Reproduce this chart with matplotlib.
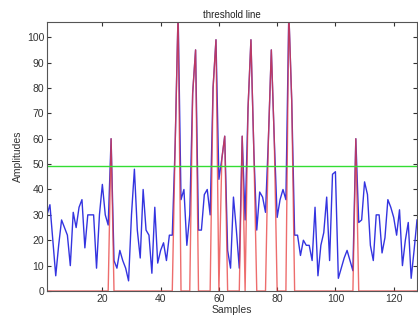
import numpy as np
import matplotlib
matplotlib.use('Agg')
import matplotlib.pyplot as plt

plt.rcParams['font.family'] = ['Liberation Sans', 'DejaVu Sans']

# signal amplitudes, samples 1..128
amplitudes = [30, 34, 20, 6, 18, 28, 25, 22, 10, 31,
              25, 33, 36, 17, 30, 30, 30, 9, 30, 42,
              30, 26, 60, 12, 9, 16, 12, 9, 4, 30,
              48, 24, 13, 40, 24, 22, 7, 33, 11, 16,
              19, 12, 22, 22, 58, 110, 36, 40, 18, 30,
              78, 95, 24, 24, 38, 40, 30, 80, 99, 44,
              52, 61, 16, 9, 37, 24, 9, 61, 28, 72,
              99, 55, 24, 39, 37, 31, 60, 95, 60, 29,
              36, 40, 36, 110, 75, 22, 22, 14, 20, 18,
              18, 12, 33, 6, 18, 23, 37, 12, 46, 47,
              5, 9, 13, 16, 12, 8, 60, 27, 28, 43,
              38, 18, 12, 30, 30, 15, 21, 36, 33, 29,
              22, 32, 10, 20, 27, 5, 16, 28]
threshold = 49.3

samples = np.arange(1, len(amplitudes) + 1)
sig = np.array(amplitudes, dtype=float)
above = np.where(sig > threshold, sig, 0)

fig = plt.figure(figsize=(4.18, 3.22), dpi=100)
ax = fig.add_axes([47/418, 1-291/322, 370/418, 269/322])

ax.plot(samples, sig, color='#3434e0', lw=1.0)
ax.plot(samples, above, color='#e83c3c', lw=1.0, alpha=0.75)
ax.axhline(threshold, color='#33dd33', lw=1.0)

ax.set_xlim(1, 128)
ax.set_ylim(0, 106)
ax.set_xticks([20, 40, 60, 80, 100, 120])
ax.set_yticks(range(0, 101, 10))
ax.tick_params(direction='in', length=3, labelsize=7.5, top=True, right=True,
               colors='#333333', pad=2)
for s in ax.spines.values():
    s.set_color('#555555')
    s.set_linewidth(0.8)

ax.set_title('threshold line', fontsize=7, pad=3, color='#222222')
ax.set_xlabel('Samples', fontsize=7.5, labelpad=1, color='#333333')
ax.set_ylabel('Amplitudes', fontsize=7.5, labelpad=3, color='#333333')

fig.savefig('out.png', dpi=100)
